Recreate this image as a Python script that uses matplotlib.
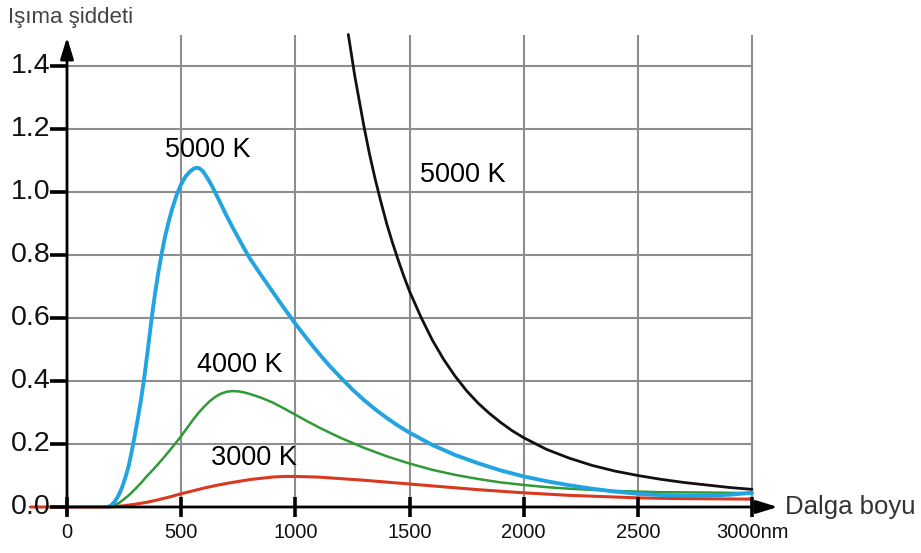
import matplotlib
matplotlib.use("Agg")
import matplotlib.pyplot as plt

# wavelength (nm) / intensity values
blue_x = [180, 195, 210, 225, 240, 255, 270, 283, 295, 310, 325, 340, 355, 370, 385, 400,
          415, 430, 445, 460, 480, 500, 520, 540, 555, 568, 580, 595, 610, 625, 640, 655,
          675, 700, 725, 750, 775, 800, 850, 900, 950, 1000, 1050, 1100, 1150, 1200, 1250,
          1300, 1350, 1400, 1450, 1500, 1600, 1700, 1800, 1900, 2000, 2100, 2200, 2300,
          2400, 2500, 2600, 2700, 2800, 2900, 3000]
blue_y = [0.0, 0.006, 0.018, 0.036, 0.06, 0.092, 0.13, 0.175, 0.22, 0.28, 0.345, 0.42,
          0.505, 0.595, 0.675, 0.745, 0.806, 0.86, 0.905, 0.945, 0.99, 1.025, 1.05, 1.066,
          1.074, 1.077, 1.075, 1.066, 1.05, 1.032, 1.012, 0.99, 0.96, 0.923, 0.888, 0.855,
          0.822, 0.79, 0.736, 0.684, 0.632, 0.582, 0.535, 0.49, 0.448, 0.41, 0.373, 0.34,
          0.31, 0.283, 0.258, 0.236, 0.197, 0.165, 0.139, 0.116, 0.097, 0.082, 0.069, 0.058,
          0.049, 0.042, 0.038, 0.036, 0.036, 0.039, 0.045]

green_x = [190, 210, 230, 250, 275, 300, 325, 350, 375, 400, 425, 450, 475, 500, 525, 550,
           575, 600, 625, 650, 675, 700, 725, 750, 775, 800, 850, 900, 950, 1000, 1050,
           1100, 1150, 1200, 1300, 1400, 1500, 1600, 1700, 1800, 1900, 2000, 2100, 2200,
           2400, 2600, 2800, 3000]
green_y = [0.0, 0.006, 0.014, 0.025, 0.04, 0.058, 0.077, 0.098, 0.117, 0.137, 0.158, 0.18,
           0.202, 0.225, 0.25, 0.275, 0.298, 0.318, 0.336, 0.35, 0.36, 0.366, 0.368, 0.367,
           0.364, 0.359, 0.347, 0.332, 0.313, 0.293, 0.273, 0.254, 0.236, 0.219, 0.188,
           0.161, 0.138, 0.118, 0.102, 0.089, 0.078, 0.07, 0.063, 0.058, 0.051, 0.047,
           0.046, 0.044]

red_x = [-160, 150, 200, 250, 300, 350, 400, 450, 500, 550, 600, 650, 700, 750, 800, 850,
         900, 950, 1000, 1050, 1100, 1200, 1300, 1400, 1500, 1600, 1700, 1800, 1900, 2000,
         2100, 2200, 2350, 2500, 2650, 2800, 3000]
red_y = [0.0, 0.0, 0.001, 0.004, 0.009, 0.015, 0.023, 0.032, 0.042, 0.051, 0.06, 0.068,
         0.075, 0.081, 0.087, 0.091, 0.095, 0.097, 0.097, 0.096, 0.095, 0.09, 0.085, 0.079,
         0.073, 0.067, 0.061, 0.055, 0.05, 0.045, 0.041, 0.037, 0.033, 0.029, 0.027, 0.026,
         0.025]

black_x = [1232, 1245, 1260, 1280, 1300, 1325, 1350, 1375, 1400, 1425, 1450, 1475, 1500,
           1550, 1600, 1650, 1700, 1750, 1800, 1850, 1900, 1950, 2000, 2100, 2200, 2300,
           2400, 2500, 2600, 2700, 2800, 2900, 3000]
black_y = [1.50, 1.44, 1.37, 1.29, 1.21, 1.12, 1.04, 0.968, 0.90, 0.84, 0.785, 0.733, 0.685,
           0.603, 0.53, 0.468, 0.415, 0.369, 0.33, 0.297, 0.268, 0.242, 0.22, 0.183, 0.155,
           0.132, 0.114, 0.100, 0.088, 0.078, 0.070, 0.062, 0.056]

xticks = [0, 500, 1000, 1500, 2000, 2500, 3000]
xtick_labels = ["0", "500", "1000", "1500", "2000", "2500", "3000nm"]
yticks = [0.0, 0.2, 0.4, 0.6, 0.8, 1.0, 1.2, 1.4]
ytick_labels = ["0.0", "0.2", "0.4", "0.6", "0.8", "1.0", "1.2", "1.4"]

font = ["Liberation Sans", "DejaVu Sans"]

fig = plt.figure(figsize=(9.21, 5.53), dpi=100)
ax = fig.add_axes([0, 0, 1, 1])
# pixel mapping: x=0 at 67px, 500 nm = 114px ; y=0 at 507px, 0.2 = 63px
sx = 685 / 3000.0
sy = 315.0
ax.set_xlim(-67 / sx, (921 - 67) / sx)
ax.set_ylim((507 - 553) / sy, 507 / sy)
ax.axis("off")

grid_c = "#8e8e8e"
ax.vlines(xticks[1:], 0, 1.5, color=grid_c, lw=1.5, zorder=1)
ax.hlines(yticks[1:], 0, 3000, color=grid_c, lw=1.5, zorder=1)

line_kw = dict(solid_joinstyle="round", solid_capstyle="round")
ax.plot(red_x, red_y, color="#d8391f", lw=2.2, zorder=3, **line_kw)
ax.plot(green_x, green_y, color="#2f9a36", lw=1.8, zorder=4, **line_kw)
ax.plot(blue_x, blue_y, color="#22a3e2", lw=2.8, zorder=5, **line_kw)
ax.plot(black_x, black_y, color="#111111", lw=2.0, zorder=5, **line_kw)

# axes with arrows
ax.annotate("", xy=(0, 1.5), xytext=(0, -0.03),
            arrowprops=dict(arrowstyle="-|>,head_length=1.3,head_width=0.4",
                            color="black", lw=2), zorder=6)
ax.annotate("", xy=(3125, 0), xytext=(-5, 0),
            arrowprops=dict(arrowstyle="-|>,head_length=1.3,head_width=0.4",
                            color="black", lw=2), zorder=6)

ax.hlines(yticks, -75, 0, color="black", lw=2.6, zorder=6)
ax.vlines(xticks, -0.032, 0.032, color="black", lw=2.6, zorder=6)

for v, s in zip(yticks, ytick_labels):
    ax.text(-72, v, s, ha="right", va="center", fontsize=20.5, family=font, color="#111111")
for v, s in zip(xticks, xtick_labels):
    ax.text(v, -0.08, s, ha="center", va="center", fontsize=14.5, family=font, color="#111111")

ax.text(617, 1.133, "5000 K", ha="center", va="center", fontsize=19.5, family=font)
ax.text(1734, 1.054, "5000 K", ha="center", va="center", fontsize=19.5, family=font)
ax.text(758, 0.451, "4000 K", ha="center", va="center", fontsize=19.5, family=font)
ax.text(819, 0.156, "3000 K", ha="center", va="center", fontsize=19.5, family=font)

ax.text(3145, 0.0, "Dalga boyu", ha="left", va="center", fontsize=18.5, family=font,
        color="#333333")
fig.text(8 / 921, 1 - 17 / 553, "Işıma şiddeti", ha="left", va="center", fontsize=16,
         family=font, color="#444444")

fig.savefig("out.png", dpi=100)
